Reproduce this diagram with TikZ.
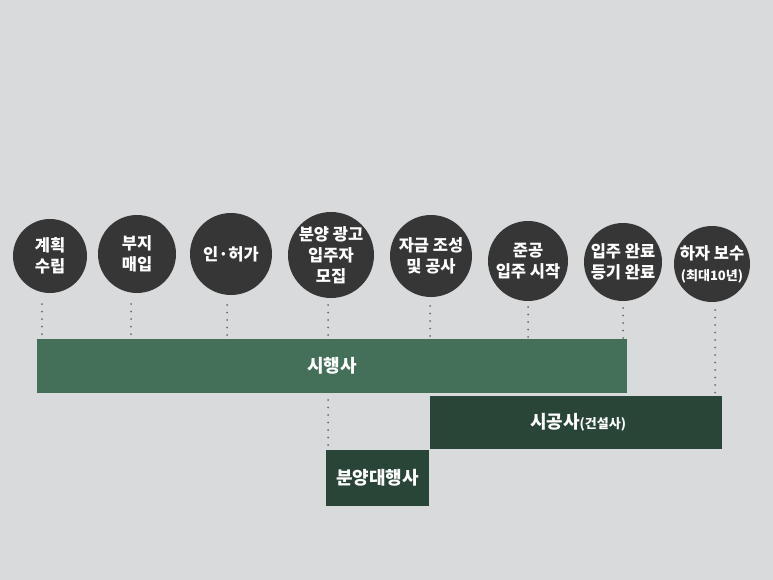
\documentclass[tikz,border=0pt]{standalone}
\usepackage{fontspec}
\setmainfont{Noto Sans CJK KR}[BoldFont={Noto Sans CJK KR Black}]
\definecolor{bg}{HTML}{D9DADC}
\definecolor{circ}{HTML}{363636}
\definecolor{gmid}{HTML}{44705A}
\definecolor{gdark}{HTML}{294538}
\definecolor{dotc}{HTML}{6B6B6B}
\begin{document}
\begin{tikzpicture}[x=1pt,y=-1pt,
  stage/.style={circle,fill=circ,inner sep=0pt,text=white,align=center,
    font=\fontsize{16.5}{21}\selectfont\bfseries},
  bar/.style={inner sep=0pt,text=white,font=\fontsize{18}{21}\selectfont\bfseries},
  dotline/.style={draw=dotc,line width=2pt,line cap=round,dash pattern=on 0pt off 7.5pt}]
\fill[bg] (0,0) rectangle (773,580);
\useasboundingbox (0,0) rectangle (773,580);
% stages
\node[stage,minimum size=74pt] (c1) at (50,256) {계획\\수립};
\node[stage,minimum size=78pt] (c2) at (137,254) {부지\\매입};
\node[stage,minimum size=82pt] (c3) at (231,254) {인·허가};
\node[stage,minimum size=84pt] (c4) at (331,255) {분양 광고\\입주자\\모집};
\node[stage,minimum size=82pt] (c5) at (431,256) {자금 조성\\및 공사};
\node[stage,minimum size=80pt] (c6) at (528,261) {준공\\입주 시작};
\node[stage,minimum size=78pt] (c7) at (623,262) {입주 완료\\등기 완료};
\node[stage,minimum size=76pt] (c8) at (712,264) {하자 보수\\{\fontsize{13}{15}\selectfont(최대10년)}};
% bars
\path[fill=gmid] (37,339) rectangle (627,393);
\node[bar,minimum width=590pt,minimum height=54pt] (b1) at (332,366) {시행사};
\path[fill=gdark] (430,396) rectangle (722,449);
\node[bar,minimum width=292pt,minimum height=53pt] (b2) at (578,422.5) {시공사{\fontsize{13}{15}\selectfont(건설사)}};
\path[fill=gdark] (326,450) rectangle (429,506);
\node[bar,minimum width=103pt,minimum height=56pt] (b3) at (377.5,478) {분양대행사};
% dotted connectors
\coordinate (d1) at (42,304);
\coordinate (d2) at (131,304);
\coordinate (d3) at (227,305);
\coordinate (d4) at (328,305);
\coordinate (d5) at (430,306);
\coordinate (d6) at (528,307);
\coordinate (d7) at (623,308);
\coordinate (d8) at (715,310);
\draw[dotline] (d1) -- (d1 |- b1.north);
\draw[dotline] (d2) -- (d2 |- b1.north);
\draw[dotline] (d3) -- (d3 |- b1.north);
\draw[dotline] (d4) -- (d4 |- b1.north);
\draw[dotline] (d5) -- (d5 |- b1.north);
\draw[dotline] (d6) -- (d6 |- b1.north);
\draw[dotline] (d7) -- (d7 |- b1.north);
\draw[dotline] (d8) -- (d8 |- b2.north);
\coordinate (d4b) at (328,400);
\draw[dotline] (d4b) -- (d4b |- b3.north);
\end{tikzpicture}
\end{document}
